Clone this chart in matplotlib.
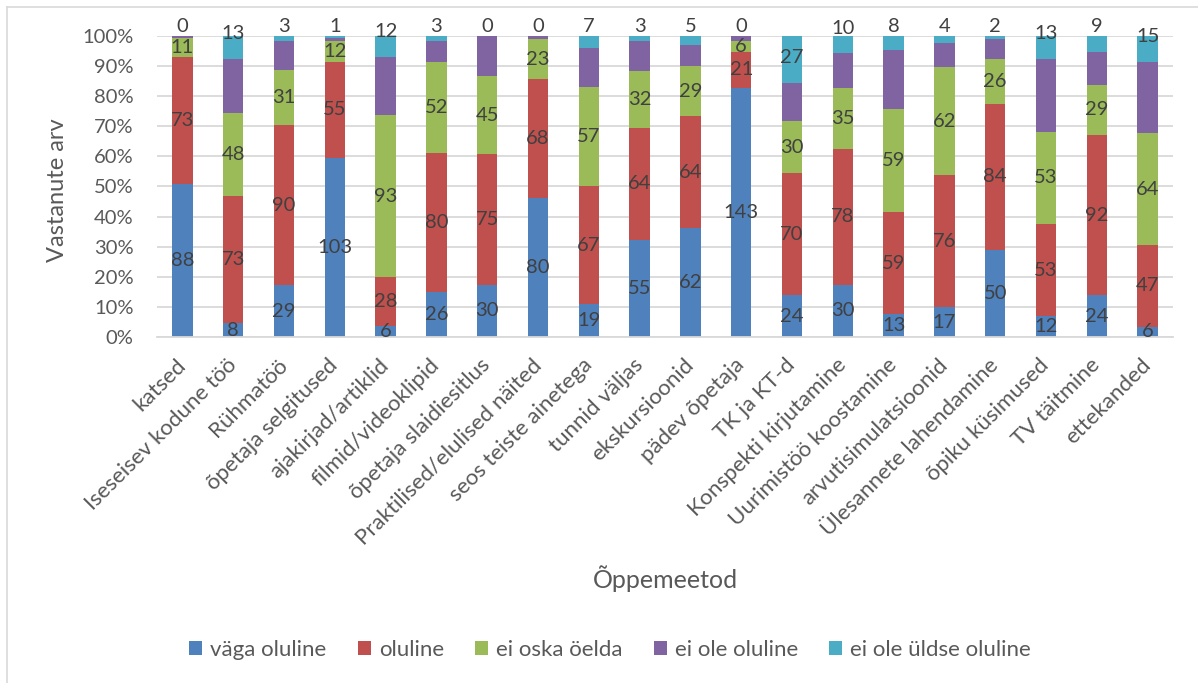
import numpy as np
import matplotlib
matplotlib.use("Agg")
import matplotlib.pyplot as plt
from matplotlib.patches import Patch
from matplotlib.lines import Line2D

plt.rcParams["font.family"] = ["Lato", "DejaVu Sans"]

categories = [
    "katsed", "Iseseisev kodune töö", "Rühmatöö", "õpetaja selgitused",
    "ajakirjad/artiklid", "filmid/videoklipid", "õpetaja slaidiesitlus",
    "Praktilised/elulised näited", "seos teiste ainetega", "tunnid väljas",
    "ekskursioonid", "pädev õpetaja", "TK ja KT-d", "Konspekti kirjutamine",
    "Uurimistöö koostamine", "arvutisimulatsioonid", "Ülesannete lahendamine",
    "õpiku küsimused", "TV täitmine", "ettekanded",
]
vaga_oluline = [88, 8, 29, 103, 6, 26, 30, 80, 19, 55, 62, 143, 24, 30, 13, 17, 50, 12, 24, 6]
oluline = [73, 73, 90, 55, 28, 80, 75, 68, 67, 64, 64, 21, 70, 78, 59, 76, 84, 53, 92, 47]
ei_oska = [11, 48, 31, 12, 93, 52, 45, 23, 57, 32, 29, 6, 30, 35, 59, 62, 26, 53, 29, 64]
ei_ole = [1, 31, 16, 2, 33, 12, 23, 2, 22, 17, 12, 3, 22, 20, 34, 14, 11, 42, 19, 41]
ei_ulds = [0, 13, 3, 1, 12, 3, 0, 0, 7, 3, 5, 0, 27, 10, 8, 4, 2, 13, 9, 15]

series_names = ["väga oluline", "oluline", "ei oska öelda", "ei ole oluline", "ei ole üldse oluline"]
colors = ["#4F81BD", "#C0504D", "#9BBB59", "#8064A2", "#4BACC6"]

W, H = 1198, 683
fig = plt.figure(figsize=(W / 100, H / 100), dpi=100)
ax = fig.add_axes([157 / W, 1 - 337 / H, (1173 - 157) / W, (337 - 36) / H])

data = np.array([vaga_oluline, oluline, ei_oska, ei_ole, ei_ulds], dtype=float)
totals = data.sum(axis=0)
pct = data / totals * 100
x = np.arange(len(categories))

bottom = np.zeros(len(categories))
for i, (vals, name, col) in enumerate(zip(pct, series_names, colors)):
    ax.bar(x, vals, 0.4, bottom=bottom, color=col, label=name, zorder=2)
    if i < 3:
        for xi, b, v, n in zip(x, bottom, vals, data[i]):
            ax.text(xi, b + v / 2, f"{int(n)}", ha="center", va="center",
                    fontsize=14.5, color="#404040", zorder=3)
    elif i == 4:
        # top series labels sit near the top edge
        for xi, b, n in zip(x, bottom, data[i]):
            ax.text(xi, min(b + 8.4, 103.2), f"{int(n)}", ha="center", va="center",
                    fontsize=14.5, color="#404040", zorder=3, clip_on=False)
    bottom += vals

ax.set_xlim(-0.5, len(categories) - 0.5)
ax.set_ylim(0, 100)
ax.set_yticks(np.arange(0, 101, 10))
ax.set_yticklabels([f"{v}%" for v in range(0, 101, 10)])
ax.yaxis.grid(True, color="#D9D9D9", linewidth=1.3)
ax.set_axisbelow(True)
for s in ["top", "right", "left"]:
    ax.spines[s].set_visible(False)
ax.spines["bottom"].set_color("#D9D9D9")
ax.spines["bottom"].set_linewidth(1.3)
ax.tick_params(axis="both", length=0, labelcolor="#595959")
ax.tick_params(axis="y", pad=17, labelsize=14.5)
ax.tick_params(axis="x", pad=18, labelsize=16)
ax.set_xticks(x)
ax.set_xticklabels(categories, rotation=45, ha="right", va="center", rotation_mode="anchor")

fig.text(57 / W, 1 - 190 / H, "Vastanute arv", rotation=90, ha="center", va="center",
         fontsize=17, color="#595959")
fig.text(665 / W, 1 - 579 / H, "Õppemeetod", ha="center", va="center",
         fontsize=18, color="#595959")

handles = [Patch(facecolor=c, edgecolor="none") for c in colors]
leg = fig.legend(handles, series_names, loc="center", ncol=5,
                 bbox_to_anchor=(610 / W, 1 - 650 / H), frameon=False,
                 fontsize=16, handlelength=0.6, handleheight=0.6,
                 handletextpad=0.35, columnspacing=1.4)
for t in leg.get_texts():
    t.set_color("#595959")

# chart border
fig.add_artist(Line2D([7 / W, 1], [1 - 7 / H, 1 - 7 / H], color="#D9D9D9", linewidth=1.2))
fig.add_artist(Line2D([7 / W, 7 / W], [0, 1 - 7 / H], color="#D9D9D9", linewidth=1.2))

fig.savefig("out.png", dpi=100)
